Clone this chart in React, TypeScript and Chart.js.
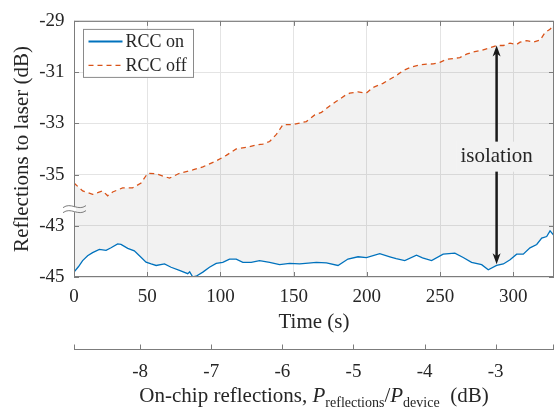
import { useEffect, useRef } from "react";
import { Chart, registerables } from "chart.js";

Chart.register(...registerables);

const FONT = "'Liberation Serif', 'Times New Roman', serif";

const seriesLabels = ["RCC on", "RCC off"];

const onTimes = [0, 3, 5.9, 9.3, 12.7, 17.3, 21.9, 25.3, 29.8, 32.1, 36.7, 41.2, 44.7, 49.2, 52.7, 56.1, 61.8, 66.3, 72, 77.7, 79, 81.1, 83.4, 88, 92.5, 97.1, 101.6, 106.2, 110.8, 115.3, 121, 126.7, 133.6, 140.4, 147.3, 154.1, 160, 165.5, 172.4, 180.3, 187.1, 194, 199.7, 208.8, 215.7, 220, 225.9, 233.9, 238, 244.2, 252.1, 260.1, 265.8, 271.5, 278.4, 282.9, 288.6, 293.2, 297.8, 302.3, 306.8, 311.4, 316, 319.4, 322.8, 325.1, 327.8];
const onValues = [-44.81, -44.6, -44.36, -44.17, -44.05, -43.92, -43.96, -43.86, -43.71, -43.73, -43.88, -43.98, -44.17, -44.42, -44.49, -44.55, -44.49, -44.62, -44.74, -44.87, -44.8, -45.0, -44.97, -44.81, -44.62, -44.47, -44.43, -44.3, -44.3, -44.43, -44.43, -44.36, -44.43, -44.52, -44.47, -44.49, -44.46, -44.43, -44.45, -44.55, -44.3, -44.21, -44.24, -44.09, -44.21, -44.28, -44.36, -44.15, -44.25, -44.36, -44.11, -44.07, -44.24, -44.43, -44.52, -44.72, -44.55, -44.49, -44.33, -44.11, -44.11, -43.86, -43.73, -43.48, -43.42, -43.2, -43.38];

const offTimes = [0, 5.9, 12.7, 19.6, 23, 26.4, 33.2, 40, 45.8, 50.3, 56, 65.2, 72, 81.1, 88, 97, 104, 110.8, 117.6, 124.5, 129, 133.6, 138.2, 142.7, 149.5, 154, 158.7, 164.4, 169, 174.6, 179.2, 184.9, 188.3, 194, 199.7, 204.2, 211, 215.7, 220.2, 224.8, 230.5, 236.2, 240.8, 245.3, 249.9, 254.4, 259, 263.5, 268.1, 272.6, 278.4, 284, 288.6, 293.2, 297.8, 302.3, 304.6, 309.2, 313.7, 318.3, 321.7, 325.1, 327.8];
const offValues = [-35.33, -35.64, -35.77, -35.64, -35.83, -35.68, -35.52, -35.52, -35.33, -34.95, -34.97, -35.14, -34.95, -34.82, -34.7, -34.47, -34.25, -34.0, -33.94, -33.84, -33.81, -33.71, -33.43, -33.05, -33.05, -32.99, -32.93, -32.67, -32.57, -32.32, -32.14, -31.92, -31.82, -31.77, -31.82, -31.6, -31.44, -31.28, -31.13, -30.94, -30.8, -30.72, -30.69, -30.68, -30.62, -30.5, -30.47, -30.43, -30.3, -30.21, -30.15, -30.05, -29.96, -29.96, -29.87, -29.92, -29.83, -29.77, -29.83, -29.75, -29.45, -29.33, -29.14];

const xTicks = [0, 50, 100, 150, 200, 250, 300];
const yTickValues = [-45, -43, -35, -33, -31, -29];
const onChipTicks = [-8, -7, -6, -5, -4, -3];

const X_MAX = 327.8;
const ONCHIP_MIN = -8.93;
const ONCHIP_MAX = -2.18;

const arrowTime = 288.6;
const arrowTop = -29.96;
const arrowBottom = -44.5;
const arrowLabel = "isolation";
const arrowLabelAt = -34.3; // axis units

const BREAK_AT = -36.35; // axis units
const toAxis = (v: number) => (v < -39 ? v + 6 : v);
const fromAxis = (a: number) => (a < -36 ? a - 6 : a);

const AXIS_COLOR = "#7c7c7c";
const TEXT_COLOR = "#262626";
const BLUE = "#0072BD";
const ORANGE = "#D95319";

const decorPlugin = {
  id: "decor",
  afterDraw(chart: any) {
    const { ctx, chartArea: a, scales } = chart;
    const xs = scales.x;
    const ys = scales.y;
    const x2 = scales.x2;
    ctx.save();
    ctx.setLineDash([]);

    // box
    ctx.strokeStyle = AXIS_COLOR;
    ctx.lineWidth = 1;
    ctx.strokeRect(a.left + 0.5, a.top + 0.5, a.right - a.left - 1, a.bottom - a.top - 1);

    // inner ticks
    const tl = 5;
    ctx.beginPath();
    for (const t of xTicks) {
      const px = Math.round(xs.getPixelForValue(t)) + 0.5;
      ctx.moveTo(px, a.top);
      ctx.lineTo(px, a.top + tl);
      ctx.moveTo(px, a.bottom);
      ctx.lineTo(px, a.bottom - tl);
    }
    for (const v of yTickValues) {
      const py = Math.round(ys.getPixelForValue(toAxis(v))) + 0.5;
      ctx.moveTo(a.left, py);
      ctx.lineTo(a.left + tl, py);
      ctx.moveTo(a.right, py);
      ctx.lineTo(a.right - tl, py);
    }
    ctx.stroke();

    // axis break marker
    const by = ys.getPixelForValue(BREAK_AT);
    ctx.fillStyle = "#ffffff";
    ctx.fillRect(a.left - 1, by - 2, 3, 5);
    const bx0 = a.left - 11;
    const bw = 23;
    ctx.beginPath();
    for (const off of [-2.5, 2.5]) {
      const y0 = by + off;
      ctx.moveTo(bx0, y0 + 1);
      ctx.bezierCurveTo(bx0 + bw * 0.35, y0 - 5, bx0 + bw * 0.65, y0 + 5, bx0 + bw, y0 - 1);
    }
    ctx.stroke();

    // legend
    const lx = a.left + 9.5;
    const ly = a.top + 8.5;
    const lw = 110;
    const lh = 48;
    ctx.fillStyle = "#ffffff";
    ctx.fillRect(lx, ly, lw, lh);
    ctx.strokeStyle = "#8a8a8a";
    ctx.lineWidth = 1;
    ctx.strokeRect(lx, ly, lw, lh);
    ctx.font = `18px ${FONT}`;
    ctx.textAlign = "left";
    ctx.textBaseline = "middle";
    chart.data.datasets.forEach((ds: any, i: number) => {
      const yy = ly + 12 + i * 24;
      ctx.strokeStyle = ds.borderColor;
      ctx.lineWidth = i === 0 ? 2 : 1.3;
      ctx.setLineDash(ds.borderDash || []);
      ctx.beginPath();
      ctx.moveTo(lx + 5, yy);
      ctx.lineTo(lx + 39, yy);
      ctx.stroke();
      ctx.setLineDash([]);
      ctx.fillStyle = TEXT_COLOR;
      ctx.fillText(ds.label, lx + 42, yy + 1);
    });

    // isolation arrow
    const ax = xs.getPixelForValue(arrowTime);
    const ay1 = ys.getPixelForValue(toAxis(arrowTop));
    const ay2 = ys.getPixelForValue(toAxis(arrowBottom));
    ctx.strokeStyle = "#1a1a1a";
    ctx.fillStyle = "#1a1a1a";
    ctx.lineWidth = 2.5;
    ctx.beginPath();
    ctx.moveTo(ax, ay1 + 6);
    ctx.lineTo(ax, ay2 - 6);
    ctx.stroke();
    const head = (tipY: number, dir: number) => {
      ctx.beginPath();
      ctx.moveTo(ax, tipY);
      ctx.lineTo(ax - 4, tipY + dir * 11);
      ctx.lineTo(ax, tipY + dir * 8);
      ctx.lineTo(ax + 4, tipY + dir * 11);
      ctx.closePath();
      ctx.fill();
    };
    head(ay1, 1);
    head(ay2, -1);
    const labY = ys.getPixelForValue(arrowLabelAt);
    ctx.font = `21px ${FONT}`;
    const tw = ctx.measureText(arrowLabel).width;
    ctx.fillStyle = "#f2f2f2";
    ctx.fillRect(ax - tw / 2 - 4, labY - 15, tw + 8, 30);
    ctx.fillStyle = TEXT_COLOR;
    ctx.textAlign = "center";
    ctx.textBaseline = "middle";
    ctx.fillText(arrowLabel, ax, labY);

    // secondary axis line and ticks
    const sy = Math.round(x2.top) + 0.5;
    ctx.strokeStyle = AXIS_COLOR;
    ctx.lineWidth = 1;
    ctx.beginPath();
    ctx.moveTo(a.left, sy);
    ctx.lineTo(a.right, sy);
    for (const v of onChipTicks) {
      const px = Math.round(x2.getPixelForValue(v)) + 0.5;
      ctx.moveTo(px, sy);
      ctx.lineTo(px, sy - 5);
    }
    ctx.moveTo(a.left + 0.5, sy);
    ctx.lineTo(a.left + 0.5, sy - 5);
    ctx.moveTo(a.right - 0.5, sy);
    ctx.lineTo(a.right - 0.5, sy - 5);
    ctx.stroke();

    // secondary axis title with subscripts
    const big = `21px ${FONT}`;
    const bigI = `italic 21px ${FONT}`;
    const small = `14px ${FONT}`;
    const pieces: [string, string, number][] = [
      ["On-chip reflections, ", big, 0],
      ["P", bigI, 0],
      ["reflections", small, 5],
      ["/", big, 0],
      ["P", bigI, 0],
      ["device", small, 5],
      ["  (dB)", big, 0],
    ];
    let total = 0;
    const widths = pieces.map(([t, f]) => {
      ctx.font = f;
      const w = ctx.measureText(t).width;
      total += w;
      return w;
    });
    let cx = (a.left + a.right) / 2 - total / 2;
    const baseY = x2.bottom - 8;
    ctx.fillStyle = TEXT_COLOR;
    ctx.textAlign = "left";
    ctx.textBaseline = "alphabetic";
    pieces.forEach(([t, f, dy], i) => {
      ctx.font = f;
      ctx.fillText(t, cx, baseY + dy);
      cx += widths[i];
    });

    ctx.restore();
  },
};

export default function App() {
  const ref = useRef<HTMLCanvasElement>(null);

  useEffect(() => {
    const canvas = ref.current;
    if (!canvas) return;
    const chart = new Chart(canvas, {
      type: "line",
      data: {
        datasets: [
          {
            label: seriesLabels[0],
            data: onTimes.map((t, i) => ({ x: t, y: toAxis(onValues[i]) })),
            borderColor: BLUE,
            borderWidth: 1.3,
            pointRadius: 0,
            fill: false,
            tension: 0,
          },
          {
            label: seriesLabels[1],
            data: offTimes.map((t, i) => ({ x: t, y: toAxis(offValues[i]) })),
            borderColor: ORANGE,
            borderWidth: 1.3,
            borderDash: [5, 4],
            pointRadius: 0,
            fill: "-1",
            backgroundColor: "rgba(0,0,0,0.052)",
            tension: 0,
          },
        ],
      },
      options: {
        responsive: false,
        animation: false,
        events: [],
        layout: { padding: { top: 13, right: 2, left: 0, bottom: 0 } },
        plugins: {
          legend: { display: false },
          tooltip: { enabled: false },
        },
        scales: {
          x: {
            type: "linear",
            position: "bottom",
            weight: 0,
            min: 0,
            max: X_MAX,
            afterBuildTicks: (s: any) => {
              s.ticks = xTicks.map((v) => ({ value: v }));
            },
            afterFit: (s: any) => {
              s.height = 72;
            },
            grid: { color: "#e4e4e4", drawTicks: false },
            border: { display: false },
            ticks: {
              padding: 8.6,
              color: TEXT_COLOR,
              font: { family: FONT, size: 19 },
              maxRotation: 0,
              autoSkip: false,
              callback: (v: any) => String(v),
            },
            title: {
              display: true,
              text: "Time (s)",
              color: TEXT_COLOR,
              font: { family: FONT, size: 21 },
              padding: { top: 4, bottom: 14.4 },
            },
          },
          x2: {
            type: "linear",
            position: "bottom",
            weight: 1,
            min: ONCHIP_MIN,
            max: ONCHIP_MAX,
            afterBuildTicks: (s: any) => {
              s.ticks = onChipTicks.map((v) => ({ value: v }));
            },
            afterFit: (s: any) => {
              s.height = 61;
            },
            grid: { display: false, drawTicks: false },
            border: { display: false },
            ticks: {
              padding: 11.6,
              color: TEXT_COLOR,
              font: { family: FONT, size: 19 },
              maxRotation: 0,
              autoSkip: false,
              callback: (v: any) => String(v),
            },
          },
          y: {
            type: "linear",
            min: toAxis(-45),
            max: -29,
            afterBuildTicks: (s: any) => {
              s.ticks = yTickValues.map((v) => ({ value: toAxis(v) }));
            },
            afterFit: (s: any) => {
              s.width = 74;
            },
            grid: { color: "#e4e4e4", drawTicks: false },
            border: { display: false },
            ticks: {
              padding: 9.5,
              color: TEXT_COLOR,
              font: { family: FONT, size: 19 },
              autoSkip: false,
              callback: (v: any) => String(fromAxis(Number(v))),
            },
            title: {
              display: true,
              text: "Reflections to laser (dB)",
              color: TEXT_COLOR,
              font: { family: FONT, size: 21 },
              padding: { top: 9.4, bottom: 4 },
            },
          },
        },
      },
      plugins: [decorPlugin],
    } as any);
    return () => chart.destroy();
  }, []);

  return (
    <canvas
      ref={ref}
      width={556}
      height={410}
      style={{ position: "fixed", left: 0, top: 0, width: 556, height: 410 }}
    />
  );
}
